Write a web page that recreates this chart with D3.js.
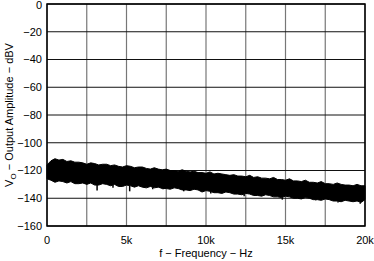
<!DOCTYPE html>
<html>
<head>
<meta charset="utf-8">
<script src="https://cdn.jsdelivr.net/npm/d3@7"></script>
<style>
  body { margin: 0; background: #fff; }
  text { font-family: "Liberation Sans", Arial, sans-serif; font-size: 11px; fill: #000; }
</style>
</head>
<body>
<div id="chart"></div>
<script>
// Output noise spectrum, drawn as a band between upper and lower trace envelopes

const WIDTH = 374
const HEIGHT = 261
const MARGIN = { TOP: 4, RIGHT: 9, BOTTOM: 35, LEFT: 47 }

// frequency points (Hz), 250 Hz apart
const freqs = d3.range(0, 20001, 250)

// upper envelope of the trace (dBV)
const upper = [
  -116, -113, -111.5, -112.5, -112, -113.5, -113, -114, -114, -114.5,
  -115.5, -114.5, -115, -116, -115.5, -115.5, -116.5, -116, -117, -117.5,
  -116.5, -117, -118, -117.5, -117.5, -118.5, -119, -118, -119, -119.5,
  -119, -120, -120, -120.5, -119.5, -120.5, -121, -120.5, -121.5, -121.5,
  -122, -121, -122.5, -122, -122.5, -123, -123.5, -123, -124, -124,
  -124.5, -123.5, -125, -124.5, -125.5, -125.5, -126, -125, -126.5, -126.5,
  -127, -126, -127.5, -127.5, -128, -127, -128.5, -128.5, -129, -128,
  -129.5, -129.5, -130, -129, -130, -130.5, -130.5, -131, -130, -131,
  -131
]

// lower envelope of the trace (dBV)
const lower = [
  -126, -127, -128.5, -127.5, -128, -129, -128, -129.5, -129.5, -129,
  -130, -129, -130.5, -130.5, -129.5, -130, -131, -130, -131.5, -131.5,
  -130.5, -131, -132, -131, -132, -132.5, -131.5, -132.5, -132, -133,
  -133, -133.5, -132.5, -133, -134, -134, -134.5, -133.5, -134, -135.5,
  -134.5, -135, -136, -136, -136.5, -135.5, -136, -137, -137, -137.5,
  -136.5, -137, -138, -138, -138.5, -137.5, -138, -139, -139, -139.5,
  -138.5, -139, -140, -140, -140.5, -139.5, -140, -141, -141, -141.5,
  -140.5, -141, -142, -142, -142.5, -141.5, -142, -142.5, -142, -143,
  -141
]

// narrow downward spikes below the band
const spikeFreqs = [3150, 4150, 5200, 6650, 7300, 8600, 10300, 12400, 14800, 16900, 18300, 19700]
const spikeDepths = [-134.5, -132.5, -135, -133.5, -133.5, -135, -136.5, -138.5, -141, -141.5, -143, -144]

const yTicks = [0, -20, -40, -60, -80, -100, -120, -140, -160]
const xGrid = d3.range(0, 20001, 2500)
const xLabels = [0, 5000, 10000, 15000, 20000]

const svg = d3.select("#chart")
  .append("svg")
  .attr("width", WIDTH)
  .attr("height", HEIGHT)

const x = d3.scaleLinear()
  .domain([0, 20000])
  .range([MARGIN.LEFT, WIDTH - MARGIN.RIGHT])

const y = d3.scaleLinear()
  .domain([-160, 0])
  .range([HEIGHT - MARGIN.BOTTOM, MARGIN.TOP])

// grid
svg.append("g")
  .selectAll("line")
  .data(xGrid)
  .join("line")
    .attr("x1", d => x(d)).attr("x2", d => x(d))
    .attr("y1", y(0)).attr("y2", y(-160))
    .attr("stroke", "#777")
    .attr("stroke-width", 1.2)

svg.append("g")
  .selectAll("line")
  .data(yTicks)
  .join("line")
    .attr("x1", x(0)).attr("x2", x(20000))
    .attr("y1", d => y(d)).attr("y2", d => y(d))
    .attr("stroke", "#111")
    .attr("stroke-width", 1)

// trace band
const data = freqs.map((f, i) => ({ f: f, hi: upper[i], lo: lower[i] }))

svg.append("path")
  .datum(data)
  .attr("d", d3.area()
    .x(d => x(d.f))
    .y0(d => y(d.lo))
    .y1(d => y(d.hi))
  )
  .attr("fill", "#000")
  .attr("stroke", "#000")
  .attr("stroke-width", 1)
  .attr("stroke-linejoin", "round")

// spikes: from the band's lower edge down to the spike depth
const lowerAt = d3.scaleLinear().domain(freqs).range(lower)
svg.append("g")
  .selectAll("line")
  .data(spikeFreqs)
  .join("line")
    .attr("x1", d => x(d)).attr("x2", d => x(d))
    .attr("y1", d => y(lowerAt(d)))
    .attr("y2", (d, i) => y(spikeDepths[i]))
    .attr("stroke", "#000")
    .attr("stroke-width", 1.5)

// frame
svg.append("rect")
  .attr("x", x(0)).attr("y", y(0))
  .attr("width", x(20000) - x(0))
  .attr("height", y(-160) - y(0))
  .attr("fill", "none")
  .attr("stroke", "#000")
  .attr("stroke-width", 1.5)

// tick labels
const fmtY = d => d === 0 ? "0" : "\u2212" + Math.abs(d)
svg.append("g")
  .selectAll("text")
  .data(yTicks)
  .join("text")
    .attr("x", x(0) - 5)
    .attr("y", d => Math.max(y(d), 5))
    .attr("dy", "0.35em")
    .attr("text-anchor", "end")
    .text(fmtY)

svg.append("g")
  .selectAll("text")
  .data(xLabels)
  .join("text")
    .attr("x", d => x(d))
    .attr("y", y(-160) + 18)
    .attr("text-anchor", "middle")
    .text(d => d === 0 ? "0" : (d / 1000) + "k")

// axis titles
svg.append("text")
  .attr("x", (x(0) + x(20000)) / 2)
  .attr("y", HEIGHT - 4)
  .attr("text-anchor", "middle")
  .text("f \u2212 Frequency \u2212 Hz")

const yTitle = svg.append("text")
  .attr("transform", `translate(13,${(y(0) + y(-160)) / 2}) rotate(-90)`)
  .attr("text-anchor", "middle")
yTitle.append("tspan").text("V")
yTitle.append("tspan").attr("dy", 3).attr("font-size", 8).text("O")
yTitle.append("tspan").attr("dy", -3).text(" \u2212 Output Amplitude \u2212 dBV")
</script>
</body>
</html>
